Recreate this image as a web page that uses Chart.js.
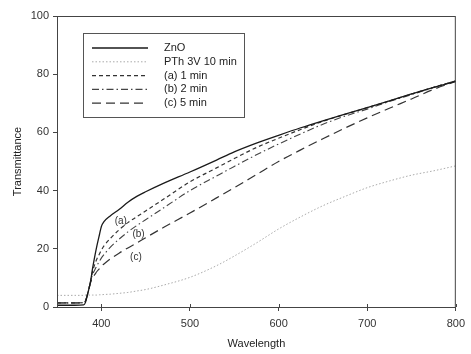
<!DOCTYPE html>
<html>
<head>
<meta charset="utf-8">
<script src="https://cdn.jsdelivr.net/npm/chart.js@4/dist/chart.umd.min.js"></script>
<style>
  body { margin: 0; background: #fff; }
  #wrap { width: 471px; height: 354px; }
</style>
</head>
<body>
<div id="wrap"><canvas id="cTrans" width="471" height="354"></canvas></div>
<script>
// values
const wavelength = [350, 360, 370, 380, 382, 385, 388, 390, 393, 395, 398, 400, 403, 410, 420, 430, 440, 450, 470, 500, 530, 550, 575, 600, 625, 650, 675, 700, 725, 750, 775, 800];
const znO     = [0.6, 0.6, 0.6, 0.7, 1.5, 5, 9, 13, 18, 21, 25, 27.6, 29.3, 31.3, 33.5, 36, 38, 39.6, 42.5, 46.4, 50.5, 53.3, 56.3, 59, 61.6, 64, 66.3, 68.5, 70.8, 73.2, 75.5, 77.5];
const pth10   = [4, 4, 4, 4, 4.1, 4.1, 4.1, 4.1, 4.1, 4.1, 4.2, 4.2, 4.3, 4.4, 4.7, 5, 5.5, 6, 7.5, 10.2, 14.2, 17.5, 22, 26.8, 31, 34.8, 38, 41, 43.3, 45.3, 46.8, 48.5];
const min1    = [1.4, 1.4, 1.4, 1.5, 2, 5, 9, 12, 15, 16.5, 18.3, 19.5, 21, 23.5, 26.5, 29, 31, 33, 37, 43, 47.8, 51, 54.8, 58, 61, 63.8, 66.2, 68.5, 70.8, 73.2, 75.5, 77.7];
const min2    = [1.4, 1.4, 1.4, 1.5, 2, 5, 9, 11, 13, 14.2, 15.8, 16.8, 18, 20.5, 23.3, 25.8, 28, 30, 34, 40, 45, 48.3, 52.3, 56, 59.5, 62.8, 65.6, 68, 70.6, 73, 75.4, 77.8];
const min5    = [1.4, 1.4, 1.4, 1.5, 2, 5, 8.5, 10, 11.3, 12.2, 13.2, 14, 14.8, 16.5, 18.5, 20.3, 22, 23.8, 27.3, 32.3, 37.5, 41, 45.5, 50, 54, 57.8, 61.5, 65, 68.3, 71.5, 74.8, 77.5];

const xTicks = [400, 500, 600, 700, 800];
const seriesNames = ['ZnO', 'PTh 3V 10 min', '(a) 1 min', '(b) 2 min', '(c) 5 min'];
const curveNotes = [
    { text: '(a)', x: 422, y: 29.4 },
    { text: '(b)', x: 442, y: 25 },
    { text: '(c)', x: 439, y: 17 }
];

const fontFam = '"Liberation Sans", Arial, sans-serif';

function pts(ys) {
    return wavelength.map((w, i) => ({ x: w, y: ys[i] }));
}

function makeSet(label, ys, color, width, dash, order) {
    return {
        label: label,
        data: pts(ys),
        borderColor: color,
        borderWidth: width,
        borderDash: dash,
        pointRadius: 0,
        fill: false,
        cubicInterpolationMode: 'monotone',
        order: order
    };
}

// legend box + frame + curve notes
const extras = {
    id: 'extras',
    afterDatasetsDraw(chart) {
        const ctx = chart.ctx;
        const a = chart.chartArea;
        const xs = chart.scales.x, ys = chart.scales.y;
        ctx.save();
        ctx.strokeStyle = '#444';
        ctx.lineWidth = 1;
        ctx.setLineDash([]);
        ctx.strokeRect(a.left + 0.5, a.top + 0.5, a.right - a.left - 1, a.bottom - a.top);

        // small tick stubs inside the bottom axis, like the original
        ctx.beginPath();
        for (let v of xTicks) {
            const px = Math.round(xs.getPixelForValue(v)) + 0.5;
            ctx.moveTo(px, a.bottom);
            ctx.lineTo(px, a.bottom - 3);
        }
        ctx.stroke();

        // legend
        ctx.strokeStyle = '#555';
        ctx.strokeRect(83.5, 33.5, 161, 84);
        ctx.font = '11px ' + fontFam;
        ctx.textBaseline = 'middle';
        ctx.textAlign = 'left';
        chart.data.datasets.forEach((ds, i) => {
            const y = 48 + i * 13.8;
            ctx.beginPath();
            ctx.strokeStyle = ds.borderColor;
            ctx.lineWidth = ds.borderWidth;
            ctx.setLineDash(ds.borderDash || []);
            ctx.moveTo(92, y);
            ctx.lineTo(148, y);
            ctx.stroke();
            ctx.fillStyle = '#222';
            ctx.fillText(ds.label, 164, y);
        });

        // (a) (b) (c)
        ctx.font = '10px ' + fontFam;
        ctx.textAlign = 'center';
        ctx.fillStyle = '#333';
        for (let n of curveNotes) {
            ctx.fillText(n.text, xs.getPixelForValue(n.x), ys.getPixelForValue(n.y));
        }
        ctx.restore();
    }
};

window.addEventListener('load', () => {
    const cTrans = document.getElementById('cTrans');
    new Chart(cTrans, {
        type: 'line',
        data: {
            datasets: [
                makeSet(seriesNames[0], znO, '#1a1a1a', 1.3, [], 1),
                makeSet(seriesNames[1], pth10, '#aaaaaa', 1, [1.5, 2], 5),
                makeSet(seriesNames[2], min1, '#333333', 1.2, [4, 3], 2),
                makeSet(seriesNames[3], min2, '#444444', 1.1, [7, 3, 1.5, 3], 3),
                makeSet(seriesNames[4], min5, '#333333', 1.2, [9, 5], 4)
            ]
        },
        options: {
            responsive: false,
            animation: false,
            layout: { padding: { top: 16, right: 9, left: 0, bottom: 0 } },
            plugins: {
                legend: { display: false },
                tooltip: { enabled: false }
            },
            scales: {
                x: {
                    type: 'linear',
                    min: 350,
                    max: 800,
                    afterBuildTicks: (scale) => { scale.ticks = xTicks.map(v => ({ value: v })); },
                    afterFit: (scale) => { scale.height = 47; },
                    grid: { drawOnChartArea: false, drawTicks: true, tickLength: 4, color: '#444' },
                    border: { color: '#444' },
                    ticks: { color: '#333', padding: 6, maxRotation: 0, font: { family: fontFam, size: 11 } },
                    title: { display: true, text: 'Wavelength', color: '#222', padding: { top: 0, bottom: 3 }, font: { family: fontFam, size: 11 } }
                },
                y: {
                    min: 0,
                    max: 100,
                    afterFit: (scale) => { scale.width = 57; },
                    grid: { drawOnChartArea: false, drawTicks: true, tickLength: 4, color: '#444' },
                    border: { color: '#444' },
                    ticks: { stepSize: 20, color: '#333', padding: 4, font: { family: fontFam, size: 11 } },
                    title: { display: true, text: 'Transmittance', color: '#222', padding: { top: 11, bottom: 0 }, font: { family: fontFam, size: 11 } }
                }
            }
        },
        plugins: [extras]
    });
});
</script>
</body>
</html>
